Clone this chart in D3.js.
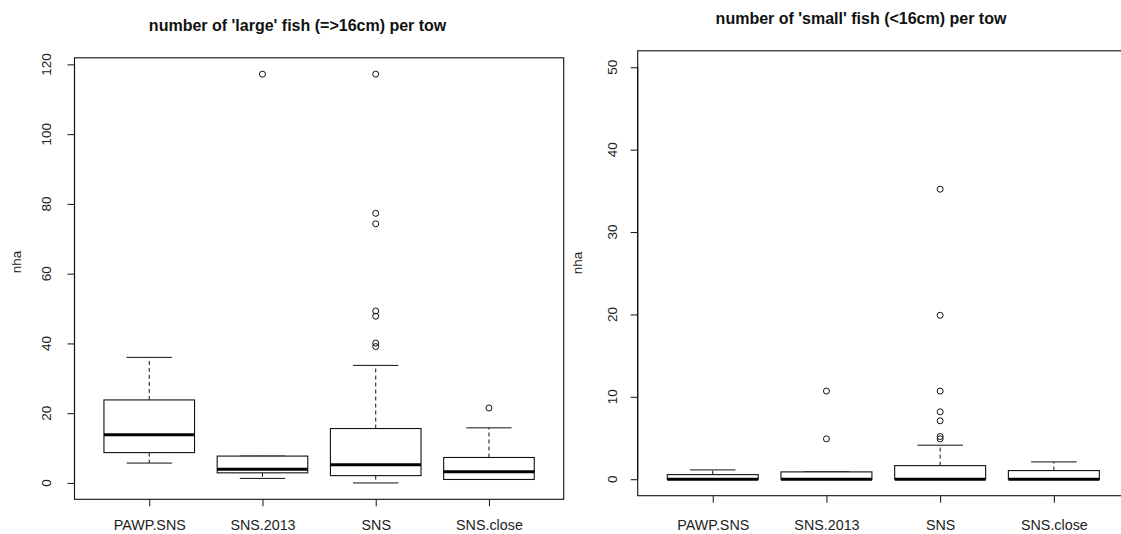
<!DOCTYPE html>
<html>
<head>
<meta charset="utf-8">
<script src="https://cdn.jsdelivr.net/npm/d3@7"></script>
<style>
  html, body { margin: 0; padding: 0; background: #fff; }
  svg { display: block; font-family: "Liberation Sans", Arial, sans-serif; }
</style>
</head>
<body>
<svg id="chart" width="1121" height="534"></svg>
<script>
// Tow groups shown on both panels
const categories = ["PAWP.SNS", "SNS.2013", "SNS", "SNS.close"];

// Large fish (=>16cm): five-number summaries per group
const largeLow    = [5.7, 1.3, 0.0, 1.0];
const largeQ1     = [8.7, 2.9, 2.1, 1.0];
const largeMedian = [13.8, 3.9, 5.2, 3.2];
const largeQ3     = [23.8, 7.7, 15.6, 7.3];
const largeHigh   = [36.0, 7.7, 33.7, 15.8];
const largeOutliers = [
  [],
  [117.2],
  [117.2, 77.3, 74.3, 49.3, 47.8, 40.1, 39.1],
  [21.5]
];
const largeTicks = [0, 20, 40, 60, 80, 100, 120];

// Small fish (<16cm): five-number summaries per group
const smallLow    = [0, 0, 0, 0];
const smallQ1     = [0, 0, 0, 0];
const smallMedian = [0, 0, 0, 0];
const smallQ3     = [0.56, 0.89, 1.65, 1.05];
const smallHigh   = [1.13, 0.89, 4.13, 2.1];
const smallOutliers = [
  [],
  [10.7, 4.9],
  [35.2, 19.9, 10.7, 8.18, 7.09, 5.18, 4.9],
  []
];
const smallTicks = [0, 10, 20, 30, 40, 50];
const smallLimits = [0, 50];

const svg = d3.select("#chart");

function buildRows(low, q1, med, q3, high, outs) {
  return categories.map((c, i) => ({
    cat: c, idx: i + 1,
    low: low[i], q1: q1[i], med: med[i], q3: q3[i], high: high[i],
    outliers: outs[i]
  }));
}

// R-style 4% range extension
function extend([a, b]) {
  const pad = (b - a) * 0.04;
  return [a - pad, b + pad];
}

function drawPanel(opts) {
  const { rows, yDomain, ticks, box, title, titleX, titleY, ylabX, ylabY, tickLabX, xPad } = opts;
  const g = svg.append("g");

  const x = d3.scaleLinear().domain([0.34, 4.66]).range([box.left, box.right]);
  const y = d3.scaleLinear().domain(yDomain).range([box.bottom, box.top]);
  const unit = x(2) - x(1);
  const halfBox = unit * 0.4;
  const halfCap = unit * 0.2;

  // frame
  g.append("rect")
    .attr("x", box.left).attr("y", box.top)
    .attr("width", box.right - box.left).attr("height", box.bottom - box.top)
    .attr("fill", "none").attr("stroke", "#111").attr("stroke-width", 1.1);

  // y axis
  const yAxis = d3.axisLeft(y).tickValues(ticks).tickSize(7).tickPadding(0).tickFormat(d3.format("d"));
  const ya = g.append("g").attr("transform", `translate(${box.left},0)`).call(yAxis);
  ya.select(".domain").attr("d", `M0,${y(ticks[0])}V${y(ticks[ticks.length - 1])}`)
    .attr("stroke", "#111").attr("stroke-width", 1.1);
  ya.selectAll(".tick line").attr("stroke", "#111");
  ya.selectAll(".tick text").remove();
  g.append("g").selectAll("text").data(ticks).join("text")
    .attr("transform", d => `translate(${tickLabX},${y(d)}) rotate(-90)`)
    .attr("text-anchor", "middle").attr("dy", "0.35em")
    .attr("font-size", 13.5).attr("fill", "#222")
    .text(d => d);

  // x axis
  const xAxis = d3.axisBottom(x).tickValues([1, 2, 3, 4]).tickSize(7).tickPadding(xPad)
    .tickFormat(d => categories[d - 1]);
  const xa = g.append("g").attr("transform", `translate(0,${box.bottom})`).call(xAxis);
  xa.select(".domain").remove();
  xa.selectAll(".tick line").attr("stroke", "#111");
  xa.selectAll(".tick text").attr("font-size", 14.3).attr("fill", "#222")
    .attr("font-family", "'Liberation Sans', Arial, sans-serif");

  // y label
  g.append("text")
    .attr("transform", `translate(${ylabX},${ylabY}) rotate(-90)`)
    .attr("text-anchor", "middle").attr("dy", "0.35em")
    .attr("font-size", 13.5).attr("fill", "#222").text("nha");

  // title
  g.append("text").attr("x", titleX).attr("y", titleY)
    .attr("text-anchor", "middle").attr("font-size", 16).attr("font-weight", "bold")
    .attr("fill", "#111").text(title);

  const bx = g.append("g").selectAll("g").data(rows).join("g");

  // whiskers (dashed)
  bx.append("line")
    .attr("x1", d => x(d.idx)).attr("x2", d => x(d.idx))
    .attr("y1", d => y(d.q3)).attr("y2", d => y(d.high))
    .attr("stroke", "#111").attr("stroke-dasharray", "4,3");
  bx.append("line")
    .attr("x1", d => x(d.idx)).attr("x2", d => x(d.idx))
    .attr("y1", d => y(d.q1)).attr("y2", d => y(d.low))
    .attr("stroke", "#111").attr("stroke-dasharray", "4,3");

  // staples
  bx.append("line")
    .attr("x1", d => x(d.idx) - halfCap).attr("x2", d => x(d.idx) + halfCap)
    .attr("y1", d => y(d.high)).attr("y2", d => y(d.high))
    .attr("stroke", "#111");
  bx.append("line")
    .attr("x1", d => x(d.idx) - halfCap).attr("x2", d => x(d.idx) + halfCap)
    .attr("y1", d => y(d.low)).attr("y2", d => y(d.low))
    .attr("stroke", "#111");

  // boxes
  bx.append("rect")
    .attr("x", d => x(d.idx) - halfBox).attr("width", halfBox * 2)
    .attr("y", d => y(d.q3)).attr("height", d => Math.max(0, y(d.q1) - y(d.q3)))
    .attr("fill", "#fff").attr("stroke", "#111").attr("stroke-width", 1.1);

  // medians
  bx.append("line")
    .attr("x1", d => x(d.idx) - halfBox).attr("x2", d => x(d.idx) + halfBox)
    .attr("y1", d => y(d.med)).attr("y2", d => y(d.med))
    .attr("stroke", "#000").attr("stroke-width", 3);

  // outliers
  bx.selectAll("circle").data(d => d.outliers.map(v => ({ idx: d.idx, v }))).join("circle")
    .attr("cx", d => x(d.idx)).attr("cy", d => y(d.v)).attr("r", 3)
    .attr("fill", "none").attr("stroke", "#111").attr("stroke-width", 1);
}

const largeRows = buildRows(largeLow, largeQ1, largeMedian, largeQ3, largeHigh, largeOutliers);
const largeMax = d3.max(largeRows, r => d3.max([r.high, ...r.outliers]));
const largeMin = d3.min(largeRows, r => r.low);

drawPanel({
  rows: largeRows,
  yDomain: extend([largeMin, largeMax]),
  ticks: largeTicks,
  box: { left: 74.5, right: 563.7, top: 57.8, bottom: 499.3 },
  title: "number of 'large' fish (=>16cm) per tow",
  titleX: 297.6, titleY: 31,
  ylabX: 16, ylabY: 262,
  tickLabX: 46,
  xPad: 14
});

drawPanel({
  rows: buildRows(smallLow, smallQ1, smallMedian, smallQ3, smallHigh, smallOutliers),
  yDomain: extend(smallLimits),
  ticks: smallTicks,
  box: { left: 637.7, right: 1128.9, top: 50.8, bottom: 495.7 },
  title: "number of 'small' fish (<16cm) per tow",
  titleX: 861, titleY: 24,
  ylabX: 577, ylabY: 263,
  tickLabX: 612,
  xPad: 17.5
});
</script>
</body>
</html>
